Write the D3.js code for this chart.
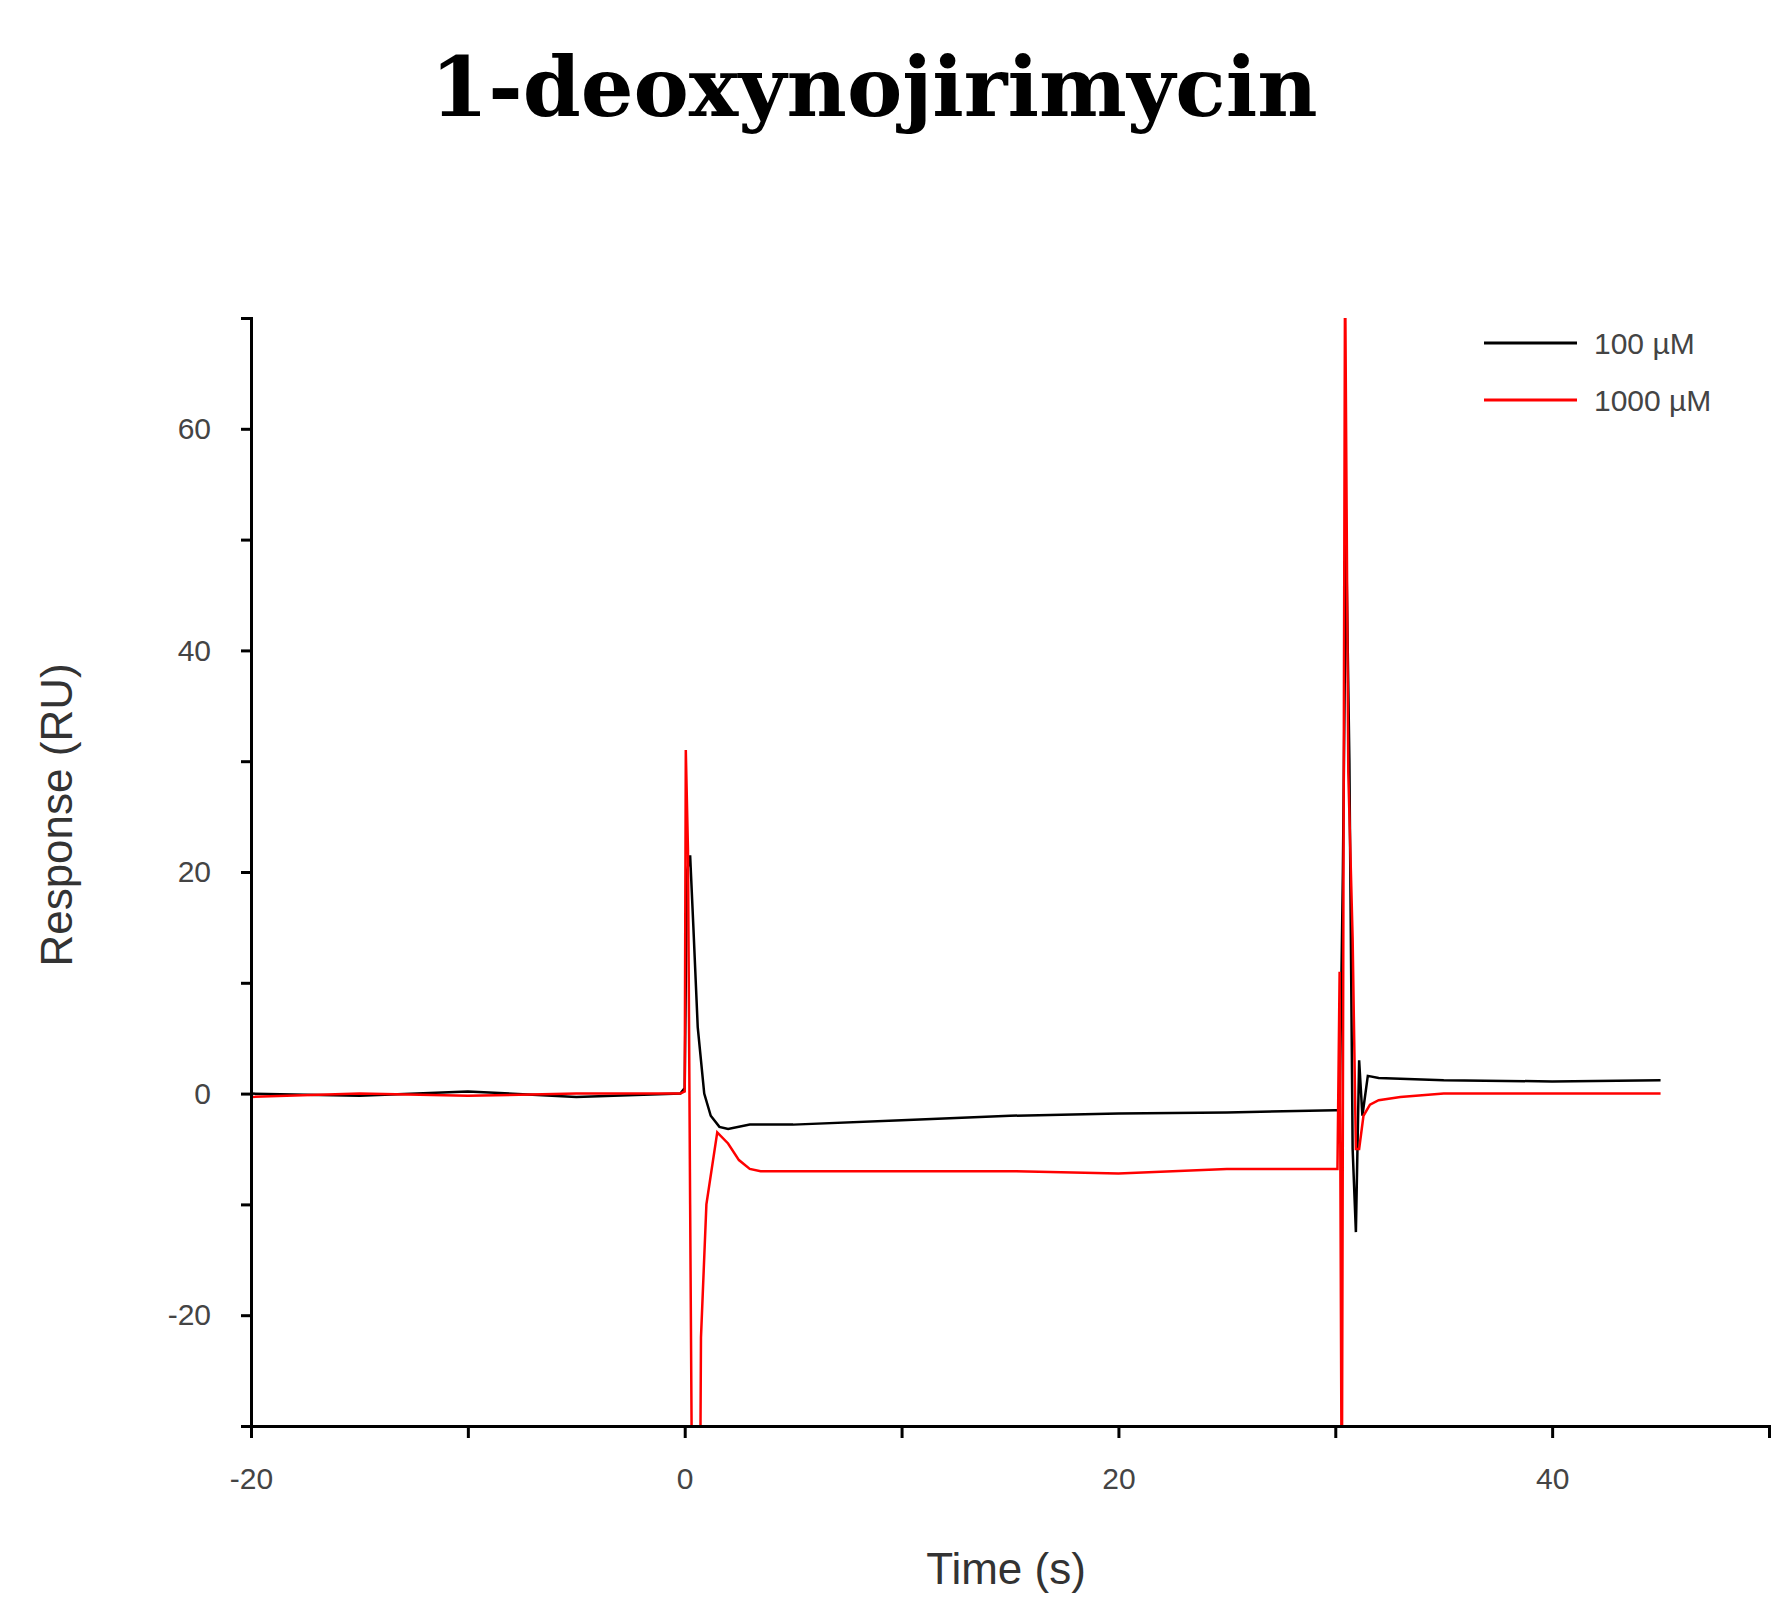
<!DOCTYPE html>
<html><head><meta charset="utf-8">
<script src="https://cdn.jsdelivr.net/npm/d3@7"></script>
<style>body{margin:0;background:#fff}</style>
</head><body>
<script>
// traces
var time100 = [-20,-15,-10,-5,-0.2,0,0.1,0.25,0.4,0.6,0.9,1.2,1.6,2,3,5,10,15,20,25,30,30.2,30.35,30.5,30.65,30.8,30.95,31.1,31.25,31.5,32,35,40,45];
var resp100 = [0,-0.2,0.2,-0.3,0,0.5,20,21.5,15,6,0,-2,-3,-3.2,-2.8,-2.8,-2.4,-2,-1.8,-1.7,-1.5,-1.5,20,50,30,-5,-12.5,3,-2,1.6,1.4,1.2,1.1,1.2];
var time1000 = [-20,-15,-10,-5,-0.2,0,0.05,0.15,0.25,0.35,0.7,0.75,1,1.5,2,2.5,3,3.5,5,10,15,20,25,30,30.1,30.2,30.3,30.45,30.6,30.8,30.95,31.1,31.3,31.6,32,33,35,40,45];
var resp1000 = [-0.3,0,-0.2,0,0,0.2,31,22,-10,-40,-40,-22,-10,-3.5,-4.5,-6,-6.8,-7,-7,-7,-7,-7.2,-6.8,-6.8,-6.8,11,-40,75,29,14,-5,-5,-2,-1,-0.6,-0.3,0,0,0];
var xTicks = [-20,0,20,40];
var yTicks = [-20,0,20,40,60];
var seriesNames = ["100 \u00b5M","1000 \u00b5M"];
var seriesColors = ["#000000","#ff0000"];

var svg = d3.select("body").append("svg").attr("width",1783).attr("height",1612);
var x = d3.scaleLinear().domain([-20,50]).range([251,1769]);
var y = d3.scaleLinear().domain([-30,70]).range([1426,318]);

svg.append("text").attr("x",874).attr("y",116).attr("text-anchor","middle")
  .style("font-family","'DejaVu Serif','Liberation Serif',serif").style("font-weight","bold")
  .style("font-size","83px").text("1-deoxynojirimycin");

svg.append("clipPath").attr("id","clip").append("rect")
  .attr("x",251).attr("y",318).attr("width",1518).attr("height",1108);

var line = d3.line().x(function(d){return x(d[0]);}).y(function(d){return y(d[1]);});
var series = [d3.zip(time100,resp100), d3.zip(time1000,resp1000)];
svg.append("g").attr("clip-path","url(#clip)").selectAll("path").data(series).enter()
  .append("path").attr("d",line).attr("fill","none")
  .attr("stroke",function(d,i){return seriesColors[i];}).attr("stroke-width",2.5);

var xAxis = svg.append("g").attr("transform","translate(0,1426)")
  .call(d3.axisBottom(x).tickValues(d3.range(-20,51,10)).tickSize(12)
  .tickFormat(function(d){return xTicks.indexOf(d)>=0 ? d : "";}));
var yAxis = svg.append("g").attr("transform","translate(251,0)")
  .call(d3.axisLeft(y).tickValues(d3.range(-30,71,10)).tickSize(10)
  .tickFormat(function(d){return yTicks.indexOf(d)>=0 ? d : "";}));
[xAxis,yAxis].forEach(function(a){
  a.select(".domain").attr("stroke","#000").attr("stroke-width",3);
  a.selectAll(".tick line").attr("stroke","#000").attr("stroke-width",3);
  a.selectAll("text").style("font-family","'Liberation Sans',Arial,sans-serif")
   .style("font-size","30px").attr("fill","#444");
});
xAxis.selectAll("text").attr("dy","1.6em");
yAxis.selectAll("text").attr("dx","-0.9em");

svg.append("text").attr("x",1006).attr("y",1584).attr("text-anchor","middle")
  .style("font-family","'Liberation Sans',Arial,sans-serif").style("font-size","44px")
  .attr("fill","#333").text("Time (s)");
svg.append("text").attr("transform","translate(72,815) rotate(-90)").attr("text-anchor","middle")
  .style("font-family","'Liberation Sans',Arial,sans-serif").style("font-size","44px")
  .attr("fill","#333").text("Response (RU)");

var legend = svg.append("g").selectAll("g").data(seriesNames).enter().append("g")
  .attr("transform",function(d,i){return "translate(1484,"+(343+i*57)+")";});
legend.append("line").attr("x1",0).attr("x2",93).attr("stroke-width",3)
  .attr("stroke",function(d,i){return seriesColors[i];});
legend.append("text").attr("x",110).attr("dy","0.35em")
  .style("font-family","'Liberation Sans',Arial,sans-serif").style("font-size","30px")
  .attr("fill","#444").text(function(d){return d;});
</script>
</body></html>
